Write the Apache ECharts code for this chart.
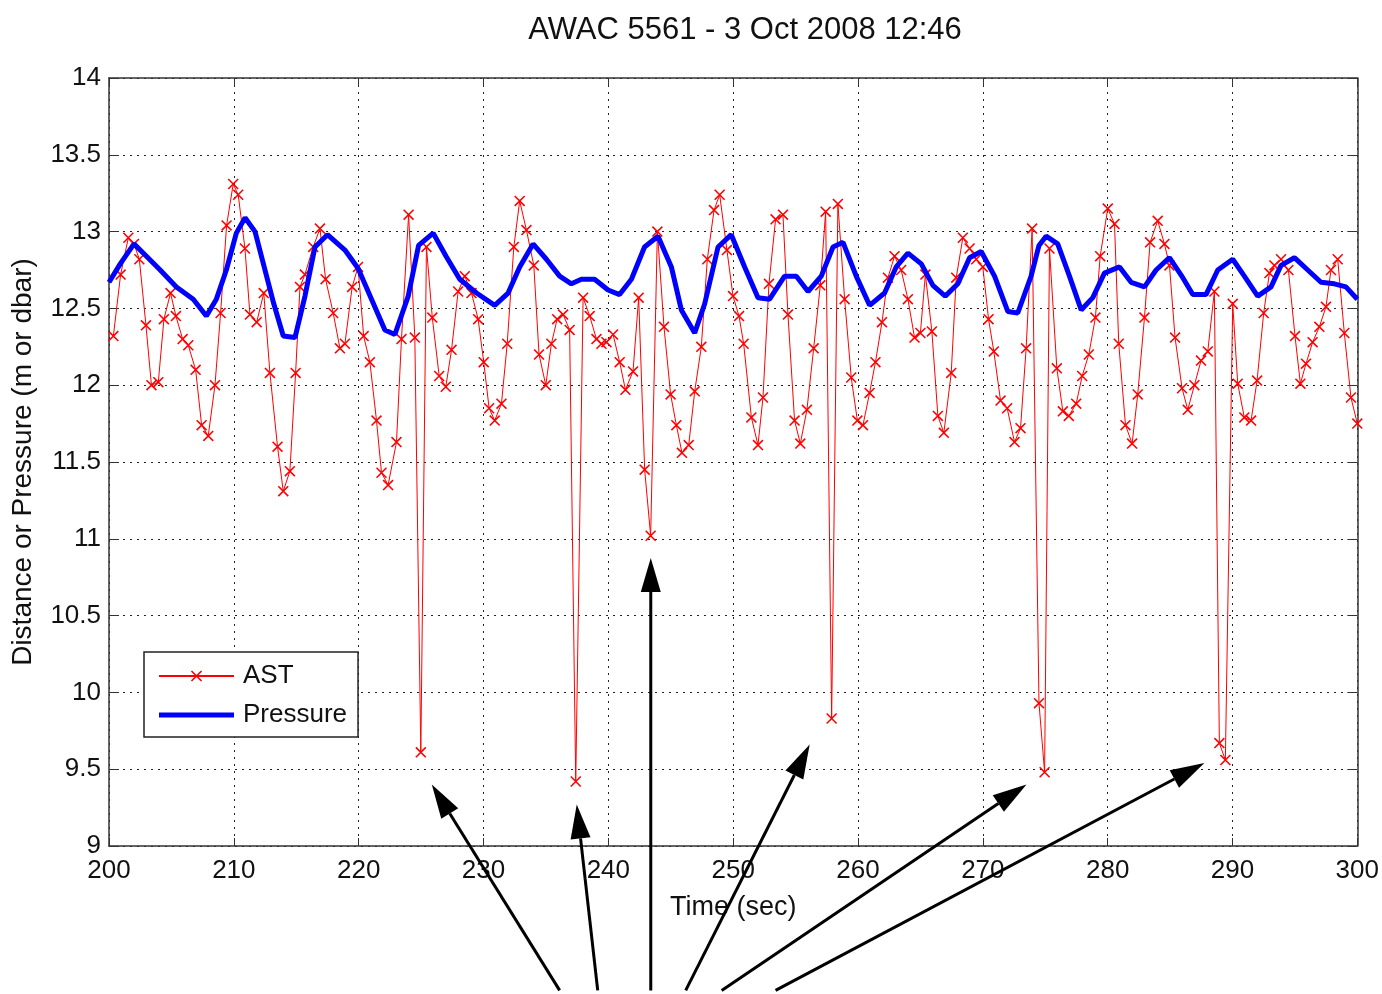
<!DOCTYPE html>
<html>
<head>
<meta charset="utf-8">
<title>AWAC 5561</title>
<script src="https://cdn.jsdelivr.net/npm/echarts@6/dist/echarts.min.js"></script>
<style>
    html, body { margin: 0; padding: 0; background: #fff; }
    #chart { width: 1382px; height: 994px; }
</style>
</head>
<body>
<div id="chart"></div>
<script>
// AST samples (time in sec, level in m)
var astTime = [
    200.35, 200.93, 201.55, 202.0, 202.43, 202.96, 203.4, 203.95, 204.4, 204.93,
    205.36, 205.9, 206.35, 206.94, 207.42, 207.95, 208.49, 208.94, 209.42, 209.95,
    210.35, 210.89, 211.29, 211.83, 212.4, 212.89, 213.5, 213.96, 214.49, 214.95,
    215.3, 215.69, 216.36, 216.9, 217.35, 217.96, 218.5, 218.9, 219.48, 219.95,
    220.4, 220.9, 221.43, 221.83, 222.36, 223.03, 223.43, 224.0, 224.5, 224.98,
    225.43, 225.9, 226.45, 226.98, 227.44, 227.97, 228.5, 229.04, 229.57, 230.02,
    230.45, 230.9, 231.44, 231.9, 232.43, 232.9, 233.44, 234.03, 234.45, 234.99,
    235.44, 235.9, 236.38, 236.9, 237.39, 237.98, 238.51, 239.05, 239.45, 239.85,
    240.38, 240.91, 241.37, 241.98, 242.43, 242.91, 243.39, 243.93, 244.46, 244.99,
    245.45, 245.9, 246.44, 246.92, 247.45, 247.93, 248.47, 248.92, 249.5, 249.99,
    250.47, 250.84, 251.46, 251.99, 252.39, 252.87, 253.4, 253.99, 254.39, 254.92,
    255.38, 255.91, 256.45, 256.98, 257.41, 257.89, 258.39, 258.93, 259.46, 259.95,
    260.4, 260.93, 261.4, 261.92, 262.4, 262.93, 263.46, 264.0, 264.53, 265.0,
    265.4, 265.92, 266.4, 266.88, 267.47, 267.87, 268.4, 268.94, 269.47, 270.0,
    270.46, 270.88, 271.42, 271.95, 272.54, 273.02, 273.47, 273.95, 274.5, 274.95,
    275.34, 275.93, 276.41, 276.89, 277.48, 277.96, 278.49, 279.02, 279.4, 280.01,
    280.55, 280.89, 281.43, 281.96, 282.41, 282.95, 283.4, 284.01, 284.55, 284.95,
    285.4, 285.96, 286.42, 286.95, 287.48, 288.02, 288.55, 288.95, 289.43, 290.02,
    290.42, 290.95, 291.49, 291.97, 292.5, 292.96, 293.36, 293.89, 294.48, 295.01,
    295.44, 295.89, 296.42, 296.96, 297.49, 297.89, 298.43, 298.96, 299.49, 300.0
];
var astLevel = [
    12.32, 12.72, 12.96, 12.92, 12.82, 12.39, 12.0, 12.02, 12.43, 12.6,
    12.45, 12.3, 12.26, 12.1, 11.74, 11.67, 12.0, 12.47, 13.04, 13.31,
    13.24, 12.89, 12.46, 12.41, 12.6, 12.08, 11.6, 11.31, 11.44, 12.08,
    12.64, 12.72, 12.9, 13.02, 12.69, 12.47, 12.24, 12.27, 12.64, 12.77,
    12.32, 12.15, 11.77, 11.43, 11.35, 11.63, 12.3, 13.11, 12.31, 9.61,
    12.9, 12.44, 12.06, 11.99, 12.23, 12.61, 12.71, 12.6, 12.43, 12.15,
    11.85, 11.77, 11.88, 12.27, 12.9, 13.2, 13.01, 12.78, 12.2, 12.0,
    12.27, 12.43, 12.46, 12.36, 9.42, 12.57, 12.45, 12.3, 12.27, 12.28,
    12.33, 12.15, 11.97, 12.09, 12.57, 11.45, 11.02, 13.0, 12.38, 11.94,
    11.74, 11.56, 11.61, 11.96, 12.25, 12.82, 13.14, 13.24, 12.88, 12.58,
    12.45, 12.27, 11.79, 11.61, 11.92, 12.66, 13.08, 13.11, 12.46, 11.77,
    11.62, 11.84, 12.24, 12.65, 13.13, 9.83, 13.18, 12.56, 12.05, 11.77,
    11.74, 11.95, 12.15, 12.41, 12.7, 12.84, 12.75, 12.56, 12.31, 12.34,
    12.72, 12.35, 11.8, 11.69, 12.08, 12.7, 12.96, 12.89, 12.82, 12.77,
    12.43, 12.22, 11.9, 11.85, 11.63, 11.72, 12.24, 13.02, 9.93, 9.48,
    12.89, 12.11, 11.83, 11.8, 11.88, 12.06, 12.2, 12.44, 12.84, 13.15,
    13.05, 12.27, 11.74, 11.62, 11.94, 12.44, 12.93, 13.07, 12.92, 12.78,
    12.31, 11.98, 11.84, 12.0, 12.16, 12.22, 12.61, 9.67, 9.56, 12.53,
    12.01, 11.79, 11.77, 12.03, 12.47, 12.73, 12.78, 12.82, 12.75, 12.32,
    12.01, 12.14, 12.28, 12.38, 12.51, 12.75, 12.82, 12.34, 11.92, 11.75
];

// Pressure (time in sec, level in dbar)
var pressureTime = [
    200.0, 200.9, 202.0, 203.0, 204.1, 205.4, 206.75, 207.8, 208.6, 209.4,
    210.2, 210.9, 211.7, 212.4, 213.2, 213.96, 214.9, 215.7, 216.5, 217.5,
    218.9, 219.96, 221.03, 222.1, 222.9, 223.97, 224.8, 225.97, 227.0, 228.1,
    229.44, 230.9, 231.97, 232.9, 233.97, 235.04, 236.1, 237.04, 237.84, 238.9,
    239.98, 240.9, 241.85, 242.9, 243.98, 245.05, 245.85, 246.92, 247.72, 248.79,
    249.85, 250.92, 251.99, 252.92, 254.12, 255.06, 256.0, 257.06, 258.0, 258.8,
    259.86, 260.93, 262.13, 263.06, 264.0, 265.07, 266.0, 266.99, 268.0, 268.94,
    269.87, 270.94, 272.0, 272.8, 273.87, 274.5, 275.07, 276.0, 276.94, 277.88,
    278.81, 279.74, 280.95, 281.88, 282.95, 283.88, 284.95, 286.02, 286.82, 287.88,
    288.82, 290.02, 290.95, 292.02, 293.09, 293.89, 294.96, 296.03, 297.09, 298.16,
    299.09, 300.0
];
var pressureLevel = [
    12.67, 12.79, 12.92, 12.84, 12.75, 12.64, 12.56, 12.45, 12.56, 12.75,
    12.99, 13.09, 13.0, 12.78, 12.53, 12.32, 12.31, 12.58, 12.9, 12.98,
    12.88, 12.76, 12.56, 12.36, 12.33, 12.58, 12.91, 12.99, 12.84, 12.69,
    12.6, 12.52, 12.6, 12.77, 12.92, 12.82, 12.71, 12.66, 12.69, 12.69,
    12.62, 12.59, 12.69, 12.9, 12.97, 12.77, 12.49, 12.34, 12.53, 12.9,
    12.98, 12.77, 12.57, 12.56, 12.71, 12.71, 12.61, 12.71, 12.9, 12.93,
    12.71, 12.52, 12.6, 12.77, 12.86, 12.79, 12.65, 12.58, 12.66, 12.83,
    12.87, 12.71, 12.48, 12.47, 12.71, 12.91, 12.97, 12.92, 12.71, 12.49,
    12.57, 12.73, 12.77, 12.67, 12.64, 12.75, 12.83, 12.7, 12.59, 12.59,
    12.75, 12.82, 12.71, 12.58, 12.64, 12.78, 12.83, 12.75, 12.67, 12.66,
    12.64, 12.56
];

// annotation arrows: [tailTime, tailLevel, tipTime, tipLevel]
var arrows = [
    [236.1, 8.06, 225.86, 9.4],
    [239.15, 8.06, 237.47, 9.27],
    [243.4, 8.06, 243.4, 10.875],
    [246.2, 8.06, 256.13, 9.66],
    [249.08, 8.06, 273.5, 9.4],
    [253.4, 8.06, 287.75, 9.54]
];

var FONT = '"Liberation Sans", Arial, sans-serif';
var X_MARK = 'path://M0,1L1,0L10,9L9,10ZM9,0L10,1L1,10L0,9Z';
// thick bar for the legend, padded by tiny corner specks so it keeps its height
var BAR_ICON = 'path://M0,0L0.01,0L0,0.01ZM75,14L74.99,14L75,13.99ZM0,4.5L75,4.5L75,9.5L0,9.5Z';

function zip(a, b) {
    return a.map(function(v, i) { return [v, b[i]]; });
}

var chart = echarts.init(document.getElementById('chart'));

var gridLine = { show: true, lineStyle: { color: '#222', width: 1, type: [2, 5] } };
var boxLine = { show: true, onZero: false, lineStyle: { color: '#333', width: 1.5 } };

chart.setOption({
    animation: false,
    backgroundColor: '#fff',
    title: {
        text: 'AWAC 5561 - 3 Oct 2008 12:46',
        left: 740,
        textAlign: 'center',
        top: 10,
        textStyle: { fontFamily: FONT, fontSize: 31, fontWeight: 'normal', color: '#111' }
    },
    legend: {
        orient: 'vertical',
        left: 144,
        top: 652,
        padding: [9, 11, 7, 14],
        itemGap: 9,
        itemWidth: 75,
        itemHeight: 14,
        backgroundColor: '#fff',
        borderColor: '#222',
        borderWidth: 1.5,
        borderRadius: 0,
        textStyle: { fontFamily: FONT, fontSize: 26, color: '#111', lineHeight: 30, padding: [0, 0, 0, 4] },
        data: [{ name: 'AST' }, { name: 'Pressure', icon: BAR_ICON }]
    },
    grid: { left: 109, right: 24, top: 78, bottom: 148 },
    xAxis: [
        {
            type: 'value',
            min: 200, max: 300, interval: 10,
            name: 'Time (sec)',
            nameLocation: 'middle',
            nameGap: 48,
            nameTextStyle: { fontFamily: FONT, fontSize: 27, color: '#111' },
            axisLine: boxLine,
            axisTick: { show: true, inside: true, length: 8, lineStyle: { color: '#333' } },
            axisLabel: { fontFamily: FONT, fontSize: 26, color: '#111', margin: 12 },
            splitLine: gridLine
        },
        {
            type: 'value',
            position: 'top',
            min: 200, max: 300, interval: 10,
            axisLine: boxLine,
            axisTick: { show: true, inside: true, length: 8, lineStyle: { color: '#333' } },
            axisLabel: { show: false },
            splitLine: { show: false }
        }
    ],
    yAxis: [
        {
            type: 'value',
            min: 9, max: 14, interval: 0.5,
            name: 'Distance or Pressure (m or dbar)',
            nameLocation: 'middle',
            nameGap: 72,
            nameTextStyle: { fontFamily: FONT, fontSize: 28, color: '#111' },
            axisLine: boxLine,
            axisTick: { show: true, inside: true, length: 10, lineStyle: { color: '#333' } },
            axisLabel: { fontFamily: FONT, fontSize: 26, color: '#111', margin: 8 },
            splitLine: gridLine
        },
        {
            type: 'value',
            position: 'right',
            min: 9, max: 14, interval: 0.5,
            axisLine: boxLine,
            axisTick: { show: true, inside: true, length: 10, lineStyle: { color: '#333' } },
            axisLabel: { show: false },
            splitLine: { show: false }
        }
    ],
    series: [
        {
            name: 'AST',
            type: 'line',
            data: zip(astTime, astLevel),
            symbol: X_MARK,
            symbolSize: 11,
            showAllSymbol: true,
            color: '#ff0000',
            lineStyle: { color: '#ff0000', width: 1 },
            itemStyle: { color: '#ff0000' },
            z: 2
        },
        {
            name: 'Pressure',
            type: 'line',
            data: zip(pressureTime, pressureLevel),
            symbol: 'none',
            color: '#0000ff',
            lineStyle: { color: '#0000ff', width: 5 },
            itemStyle: { color: '#0000ff' },
            z: 3
        }
    ]
});

// arrows drawn from data coordinates
var elements = [];
arrows.forEach(function(a) {
    var p0 = chart.convertToPixel({ xAxisIndex: 0, yAxisIndex: 0 }, [a[0], a[1]]);
    var p1 = chart.convertToPixel({ xAxisIndex: 0, yAxisIndex: 0 }, [a[2], a[3]]);
    var dx = p1[0] - p0[0], dy = p1[1] - p0[1];
    var len = Math.sqrt(dx * dx + dy * dy);
    var ux = dx / len, uy = dy / len;
    var headLen = 34, headHalf = 10;
    var bx = p1[0] - ux * headLen, by = p1[1] - uy * headLen;
    elements.push({
        type: 'line',
        z: 100,
        shape: { x1: p0[0], y1: p0[1], x2: bx, y2: by },
        style: { stroke: '#000', lineWidth: 3 }
    });
    elements.push({
        type: 'polygon',
        z: 100,
        shape: { points: [[p1[0], p1[1]], [bx - uy * headHalf, by + ux * headHalf], [bx + uy * headHalf, by - ux * headHalf]] },
        style: { fill: '#000' }
    });
});
chart.setOption({ graphic: elements });
</script>
</body>
</html>
